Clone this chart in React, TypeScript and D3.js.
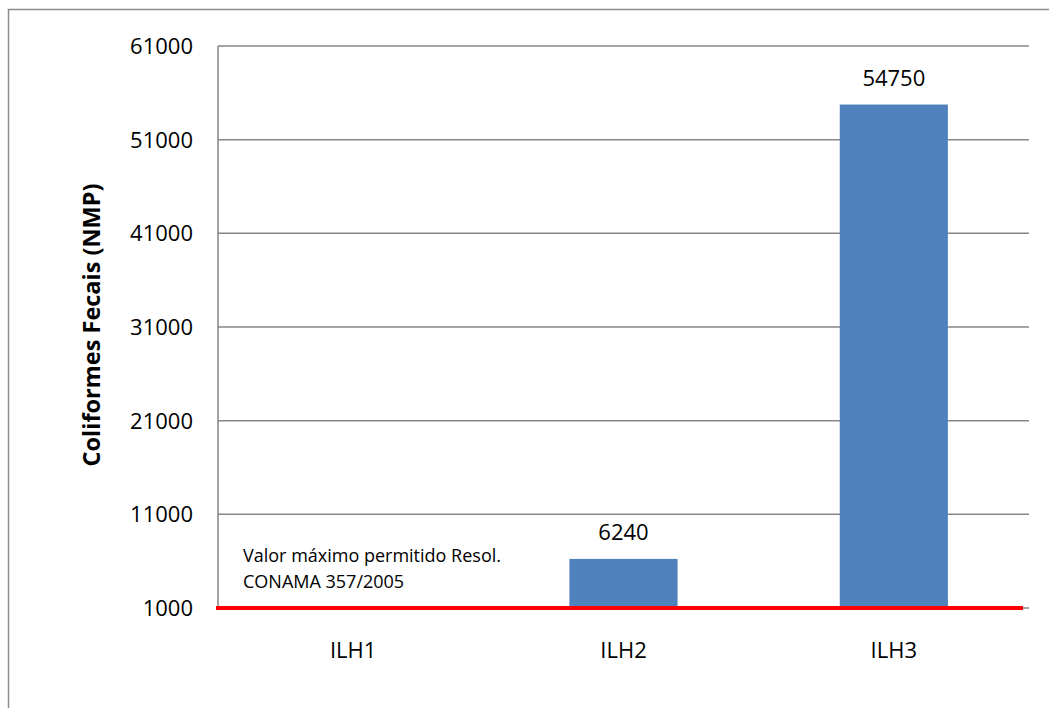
import React from "react";
import * as d3 from "d3";

// Coliformes fecais por ponto de coleta, com o limite da Resolução CONAMA 357/2005
const categories = ["ILH1", "ILH2", "ILH3"];
const values: (number | null)[] = [null, 6240, 54750];
const yTicks = [1000, 11000, 21000, 31000, 41000, 51000, 61000];
const limitValue = 1000;
const limitLabel = ["Valor máximo permitido Resol.", "CONAMA 357/2005"];
const yTitle = "Coliformes Fecais (NMP)";

const W = 1049;
const H = 708;
const plot = { left: 218, right: 1029, top: 46, bottom: 608 };
const FONT = "'Open Sans', 'DejaVu Sans', sans-serif";

export default function App() {
  const y = d3.scaleLinear().domain([1000, 61000]).range([plot.bottom, plot.top]);
  const x = d3
    .scaleBand<string>()
    .domain(categories)
    .range([plot.left, plot.right])
    .paddingInner(0.6)
    .paddingOuter(0.3);

  return (
    <svg
      width={W}
      height={H}
      style={{ position: "absolute", left: 0, top: 0, background: "#fff" }}
      fontFamily={FONT}
    >
      {/* chart border */}
      <rect x={8.5} y={9.5} width={W + 20} height={H + 20} fill="none" stroke="#8c8c8c" strokeWidth={1.5} />

      {/* gridlines and y tick labels */}
      {yTicks.map((t) => (
        <g key={t}>
          <line x1={plot.left} x2={plot.right} y1={y(t)} y2={y(t)} stroke="#868686" strokeWidth={1.5} />
          <text x={193} y={y(t)} dy="0.36em" textAnchor="end" fontSize={22} fill="#000">
            {t}
          </text>
        </g>
      ))}
      <line x1={plot.left} x2={plot.left} y1={plot.top} y2={plot.bottom} stroke="#868686" strokeWidth={1.5} />

      {/* bars */}
      {categories.map((c, i) => {
        const v = values[i];
        if (v == null) return null;
        const bx = x(c)!;
        return (
          <g key={c}>
            <rect x={bx} y={y(v)} width={x.bandwidth()} height={y(1000) - y(v)} fill="#4f81bd" />
            <text x={bx + x.bandwidth() / 2} y={y(v) - 19} textAnchor="middle" fontSize={22} fill="#000">
              {v}
            </text>
          </g>
        );
      })}

      {/* limit line */}
      <line x1={plot.left - 2} x2={1023} y1={y(limitValue)} y2={y(limitValue)} stroke="#ff0000" strokeWidth={4} />
      <text x={243} y={562} fontSize={18} fill="#000">
        {limitLabel[0]}
      </text>
      <text x={243} y={588} fontSize={18} fill="#000">
        {limitLabel[1]}
      </text>

      {/* category labels */}
      {categories.map((c) => (
        <text key={c} x={x(c)! + x.bandwidth() / 2} y={658} textAnchor="middle" fontSize={22} fill="#000">
          {c}
        </text>
      ))}

      {/* y axis title */}
      <text
        transform={`translate(100, ${(182 + 468) / 2}) rotate(-90)`}
        textAnchor="middle"
        fontSize={23.5}
        fontWeight="bold"
        fill="#000"
      >
        {yTitle}
      </text>
    </svg>
  );
}
